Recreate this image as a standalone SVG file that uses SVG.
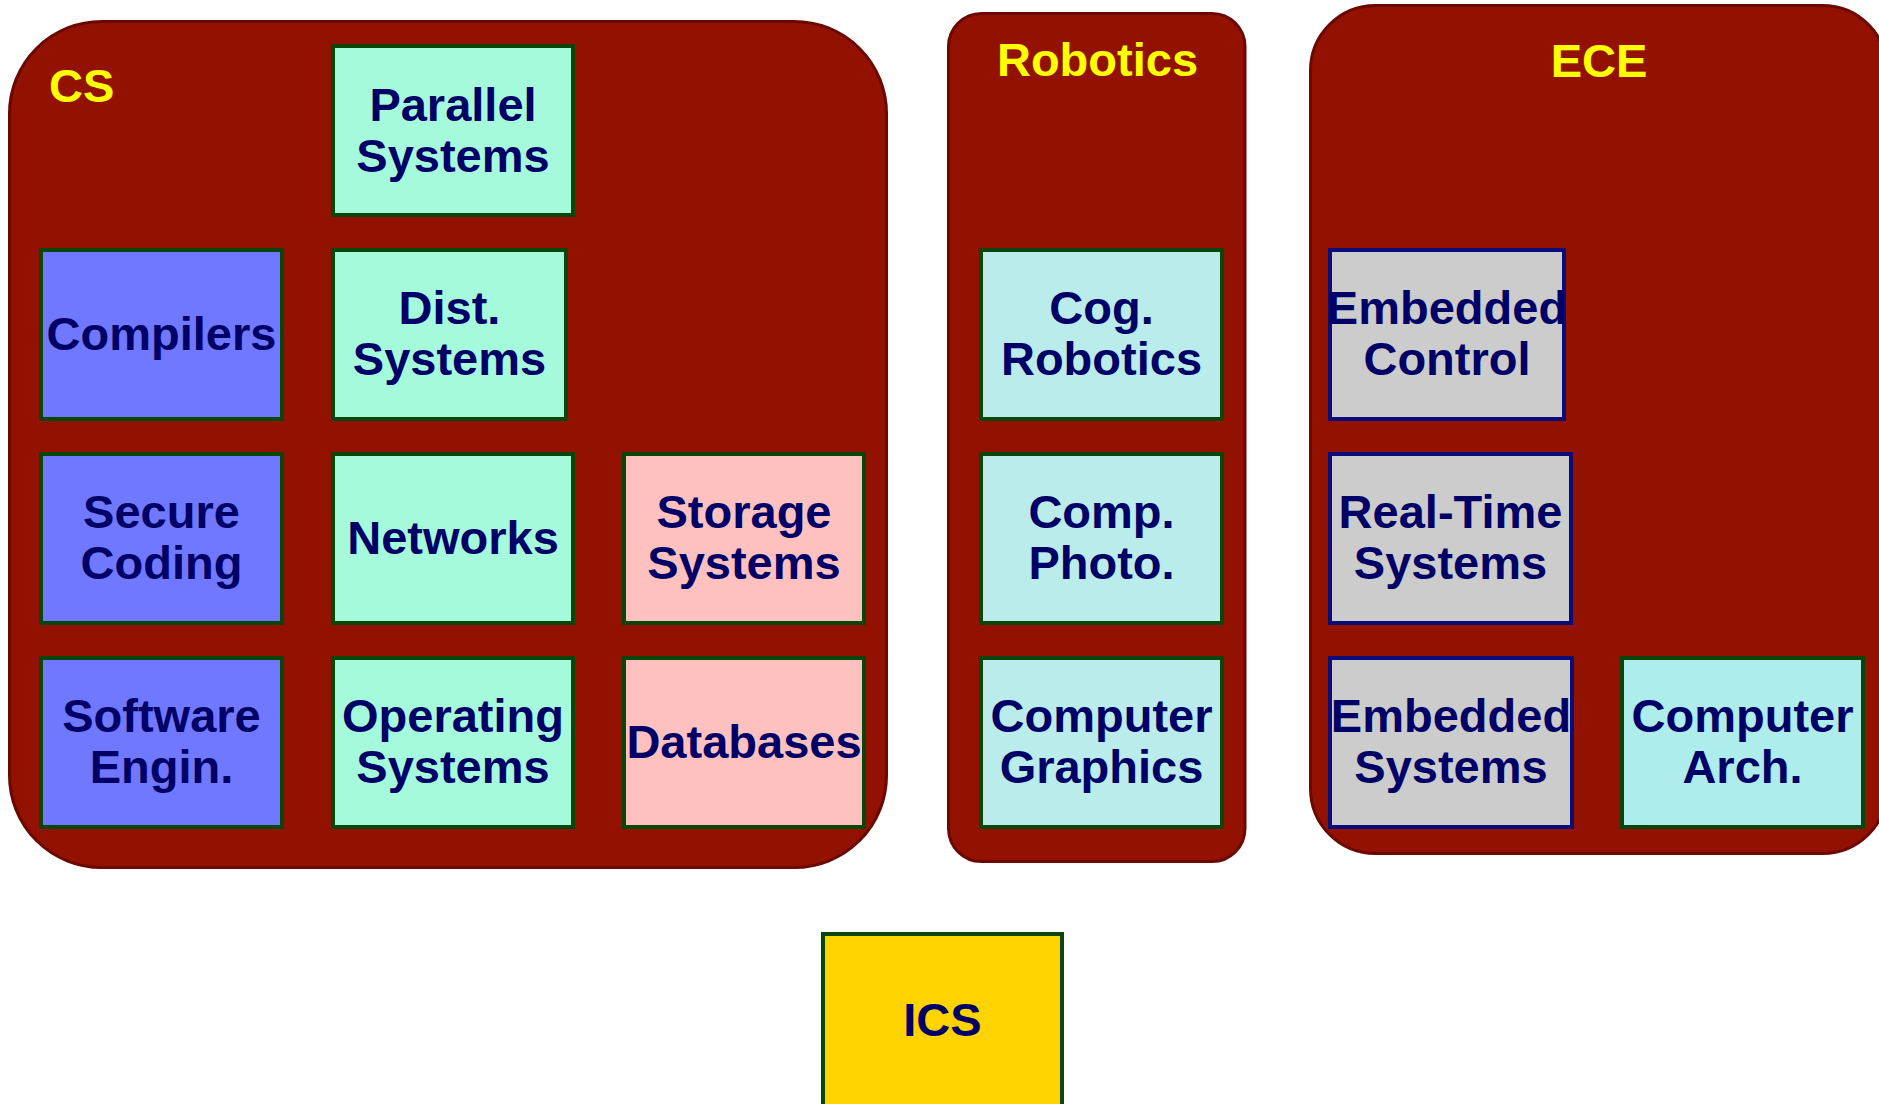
<svg xmlns="http://www.w3.org/2000/svg" width="1879" height="1104" viewBox="0 0 1879 1104">
  <style>
    .dept { fill: #921100; stroke: #6b0800; stroke-width: 3; }
    .dept-label { font-family: "Liberation Sans", Arial, Helvetica, sans-serif; font-weight: bold; font-size: 47px; fill: #ffff00; }
    .box { stroke: #0a460a; stroke-width: 4; }
    .box.ece { stroke: #0c0c78; }
    .label { font-family: "Liberation Sans", Arial, Helvetica, sans-serif; font-weight: bold; font-size: 47px; fill: #000066; text-anchor: middle; }
    .sw { fill: #7078ff; }
    .sys { fill: #a6fadc; }
    .data { fill: #ffc0c0; }
    .vis { fill: #bbecec; }
    .arch { fill: #afecec; }
    .emb { fill: #cccccc; }
    .core { fill: #ffd300; }
  </style>

  <!-- department containers -->
  <g id="dept-cs">
    <rect class="dept" x="9.5" y="21.5" width="877" height="846" rx="92" ry="92"/>
    <text class="dept-label" x="49" y="102">CS</text>
  </g>
  <g id="dept-robotics">
    <rect class="dept" x="948.5" y="13.5" width="296.5" height="848" rx="33" ry="33"/>
    <text class="dept-label" x="1097.5" y="76" text-anchor="middle">Robotics</text>
  </g>
  <g id="dept-ece">
    <rect class="dept" x="1310.5" y="5.5" width="577" height="848" rx="65" ry="65"/>
    <text class="dept-label" x="1599" y="77" text-anchor="middle">ECE</text>
  </g>

  <!-- CS courses -->
  <g id="parallel-systems">
    <rect class="box sys" x="333" y="46" width="240" height="169"/>
    <text class="label" x="453" y="121">Parallel</text>
    <text class="label" x="453" y="172">Systems</text>
  </g>
  <g id="compilers">
    <rect class="box sw" x="41" y="250" width="241" height="169"/>
    <text class="label" x="161.5" y="350">Compilers</text>
  </g>
  <g id="dist-systems">
    <rect class="box sys" x="333" y="250" width="233" height="169"/>
    <text class="label" x="449.5" y="324">Dist.</text>
    <text class="label" x="449.5" y="375">Systems</text>
  </g>
  <g id="secure-coding">
    <rect class="box sw" x="41" y="454" width="241" height="169"/>
    <text class="label" x="161.5" y="528">Secure</text>
    <text class="label" x="161.5" y="579">Coding</text>
  </g>
  <g id="networks">
    <rect class="box sys" x="333" y="454" width="240" height="169"/>
    <text class="label" x="453" y="554">Networks</text>
  </g>
  <g id="storage-systems">
    <rect class="box data" x="624" y="454" width="240" height="169"/>
    <text class="label" x="744" y="528">Storage</text>
    <text class="label" x="744" y="579">Systems</text>
  </g>
  <g id="software-engin">
    <rect class="box sw" x="41" y="658" width="241" height="169"/>
    <text class="label" x="161.5" y="732">Software</text>
    <text class="label" x="161.5" y="783">Engin.</text>
  </g>
  <g id="operating-systems">
    <rect class="box sys" x="333" y="658" width="240" height="169"/>
    <text class="label" x="453" y="732">Operating</text>
    <text class="label" x="453" y="783">Systems</text>
  </g>
  <g id="databases">
    <rect class="box data" x="624" y="658" width="240" height="169"/>
    <text class="label" x="744" y="758">Databases</text>
  </g>

  <!-- Robotics courses -->
  <g id="cog-robotics">
    <rect class="box vis" x="981" y="250" width="241" height="169"/>
    <text class="label" x="1101.5" y="324">Cog.</text>
    <text class="label" x="1101.5" y="375">Robotics</text>
  </g>
  <g id="comp-photo">
    <rect class="box vis" x="981" y="454" width="241" height="169"/>
    <text class="label" x="1101.5" y="528">Comp.</text>
    <text class="label" x="1101.5" y="579">Photo.</text>
  </g>
  <g id="computer-graphics">
    <rect class="box vis" x="981" y="658" width="241" height="169"/>
    <text class="label" x="1101.5" y="732">Computer</text>
    <text class="label" x="1101.5" y="783">Graphics</text>
  </g>

  <!-- ECE courses -->
  <g id="embedded-control">
    <rect class="box ece emb" x="1330" y="250" width="234" height="169"/>
    <text class="label" x="1447" y="324">Embedded</text>
    <text class="label" x="1447" y="375">Control</text>
  </g>
  <g id="real-time-systems">
    <rect class="box ece emb" x="1330" y="454" width="241" height="169"/>
    <text class="label" x="1450.5" y="528">Real-Time</text>
    <text class="label" x="1450.5" y="579">Systems</text>
  </g>
  <g id="embedded-systems">
    <rect class="box ece emb" x="1330" y="658" width="242" height="169"/>
    <text class="label" x="1451" y="732">Embedded</text>
    <text class="label" x="1451" y="783">Systems</text>
  </g>
  <g id="computer-arch">
    <rect class="box arch" x="1622" y="658" width="241" height="169"/>
    <text class="label" x="1742.5" y="732">Computer</text>
    <text class="label" x="1742.5" y="783">Arch.</text>
  </g>

  <!-- shared core; runs off the bottom edge of the page -->
  <g id="ics">
    <rect class="box core" x="823" y="934" width="239" height="190"/>
    <text class="label" x="942.5" y="1036">ICS</text>
  </g>

  <!-- no connectors are drawn between the nodes -->
  <g id="connectors"/>
</svg>
